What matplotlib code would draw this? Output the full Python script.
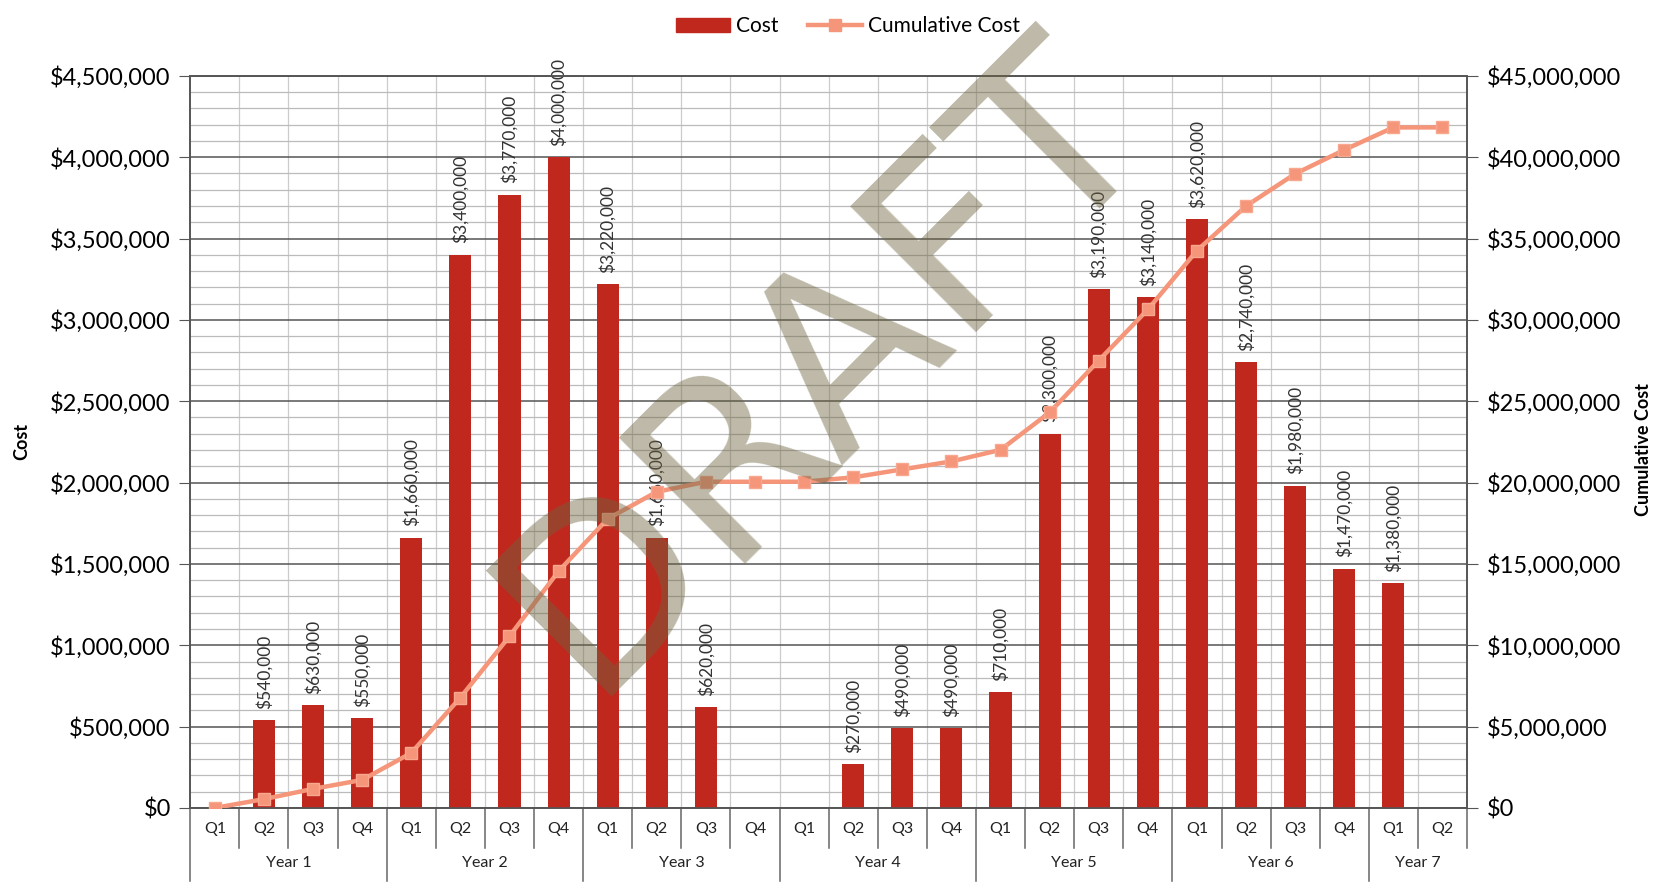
import numpy as np
import matplotlib
matplotlib.use("Agg")
import matplotlib.pyplot as plt
from matplotlib.patches import Patch
from matplotlib.lines import Line2D
from matplotlib.ticker import FuncFormatter, MultipleLocator

plt.rcParams['font.family'] = ['Lato', 'DejaVu Sans']

# quarterly spend, Year 1 Q1 .. Year 7 Q2
years = ["Year 1", "Year 2", "Year 3", "Year 4", "Year 5", "Year 6", "Year 7"]
quarters = ["Q1", "Q2", "Q3", "Q4"] * 6 + ["Q1", "Q2"]
cost = [0, 540000, 630000, 550000,
        1660000, 3400000, 3770000, 4000000,
        3220000, 1660000, 620000, 0,
        0, 270000, 490000, 490000,
        710000, 2300000, 3190000, 3140000,
        3620000, 2740000, 1980000, 1470000,
        1380000, 0]
cumulative = np.cumsum(cost)

bar_color = "#c0281e"
line_color = "#f5957a"
money = FuncFormatter(lambda v, p: "${:,.0f}".format(v))

fig = plt.figure(figsize=(16.69, 8.82), dpi=100)
ax = fig.add_axes([0.114, 0.084, 0.765, 0.83])
ax2 = ax.twinx()

x = np.arange(len(cost))
ax.bar(x, cost, width=0.45, color=bar_color, zorder=3)
for xi, v in zip(x, cost):
    if v > 0:
        ax.text(xi, v + 70000, "${:,.0f}".format(v), rotation=90,
                ha="center", va="bottom", fontsize=12.5, color="#333333", zorder=4)

ax2.plot(x, cumulative, color=line_color, lw=3.2, marker="s", ms=8,
         mfc=line_color, mec="#f7a88f", zorder=5)

# axes ranges and grid
ax.set_xlim(-0.5, len(cost) - 0.5)
ax.set_ylim(0, 4500000)
ax2.set_ylim(0, 45000000)
ax.yaxis.set_major_locator(MultipleLocator(500000))
ax.yaxis.set_minor_locator(MultipleLocator(100000))
ax2.yaxis.set_major_locator(MultipleLocator(5000000))
ax.yaxis.set_major_formatter(money)
ax2.yaxis.set_major_formatter(money)
ax.grid(axis="y", which="major", color="#555555", lw=1.1, zorder=0)
ax.grid(axis="y", which="minor", color="#bbbbbb", lw=0.9, zorder=0)
for b in np.arange(0.5, len(cost) - 0.5):
    ax.axvline(b, color="#cccccc", lw=0.9, zorder=0)
ax.set_axisbelow(True)

ax.tick_params(axis="y", which="major", labelsize=17, length=8, color="#555555", pad=6)
ax.tick_params(axis="y", which="minor", length=0)
ax2.tick_params(axis="y", labelsize=17, length=8, color="#555555", pad=6)
for a in (ax, ax2):
    for s in a.spines.values():
        s.set_color("#555555")
        s.set_linewidth(1.2)

# two-level category axis
ax.set_xticks(x)
ax.set_xticklabels(quarters, fontsize=11.5, color="#222222")
ax.tick_params(axis="x", length=0, pad=10)
trans = ax.get_xaxis_transform()
year_starts = [0, 4, 8, 12, 16, 20, 24]
for b in np.arange(0.5, len(cost) - 0.5):
    long_line = (b + 0.5) in year_starts
    ax.plot([b, b], [0, -0.1 if long_line else -0.055], transform=trans,
            color="#666666", lw=1.1, clip_on=False)
ax.plot([-0.5, -0.5], [0, -0.1], transform=trans, color="#666666", lw=1.1, clip_on=False)
ax.plot([len(cost) - 0.5] * 2, [0, -0.055], transform=trans, color="#666666",
        lw=1.1, clip_on=False)
for name, s in zip(years, year_starts):
    e = min(s + 4, len(cost))
    ax.text((s + e - 1) / 2, -0.075, name, transform=trans, ha="center",
            va="center", fontsize=11.5, color="#222222")

fig.text(0.013, 0.5, "Cost", rotation=90, ha="center", va="center",
         fontsize=13, fontweight="bold")
fig.text(0.985, 0.49, "Cumulative Cost", rotation=90, ha="center", va="center",
         fontsize=13, fontweight="bold")

handles = [Patch(color=bar_color),
           Line2D([0], [0], color=line_color, lw=3.2, marker="s", ms=8)]
fig.legend(handles, ["Cost", "Cumulative Cost"], loc="center",
           bbox_to_anchor=(0.508, 0.97), ncol=2, frameon=False, fontsize=15,
           handlelength=2.6, columnspacing=1.4, handletextpad=0.3)

# watermark
fig.text(0.494, 0.585, "DRAFT", rotation=45, ha="center", va="center",
         fontsize=176, color="#6e6440", alpha=0.45,
         family="DejaVu Sans", zorder=10)

fig.savefig("out.png", dpi=100)
